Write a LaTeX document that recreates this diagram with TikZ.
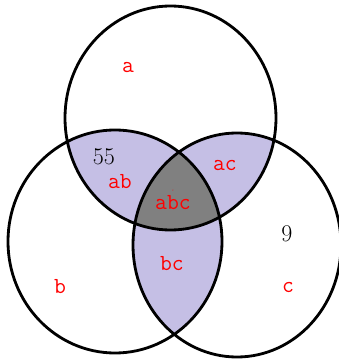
\documentclass[tikz,border=0pt]{standalone}
\definecolor{lensfill}{RGB}{197,191,229}
\definecolor{corefill}{RGB}{128,128,128}
\usepackage{tikz}
\usetikzlibrary{positioning}

\def\circA{(170.5,242) ellipse [x radius=105.5, y radius=112]}
\def\circB{(115,118.5) ellipse [x radius=107, y radius=111.5]}
\def\circC{(237,115) ellipse [x radius=104, y radius=112]}

\begin{document}
\begin{tikzpicture}[x=1pt,y=1pt,
    setline/.style={line width=2.8pt},
    setlabel/.style={text=red, font=\fontsize{23}{26}\selectfont\ttfamily},
    countlabel/.style={font=\fontsize{24}{28}\selectfont}]
    \useasboundingbox (0,0) rectangle (339,360);
    % pairwise overlaps
    \begin{scope} \clip \circA; \fill[lensfill] \circB; \end{scope}
    \begin{scope} \clip \circA; \fill[lensfill] \circC; \end{scope}
    \begin{scope} \clip \circB; \fill[lensfill] \circC; \end{scope}
    % triple overlap
    \begin{scope} \clip \circA; \clip \circB; \fill[corefill] \circC; \end{scope}
    \draw[setline] \circA \circB \circC;

    \node[setlabel] (a) at (128,292) {a};
    \node[setlabel] (b) at (60,73) {b};
    \node[setlabel] (c) at (288,72) {c};
    \node[setlabel] (ab) at (120,178) {ab};
    \node[setlabel] (ac) at (225,194) {ac};
    \node[setlabel] (bc) at (172,96) {bc};
    \node[setlabel] (abc) at (173,157) {abc};
    \node[countlabel] (nab) at (104,203) {55};
    \node[countlabel] (nc) at (287,126) {9};
    \fill[red] (173,170) circle (0.5pt);
\end{tikzpicture}
\end{document}
